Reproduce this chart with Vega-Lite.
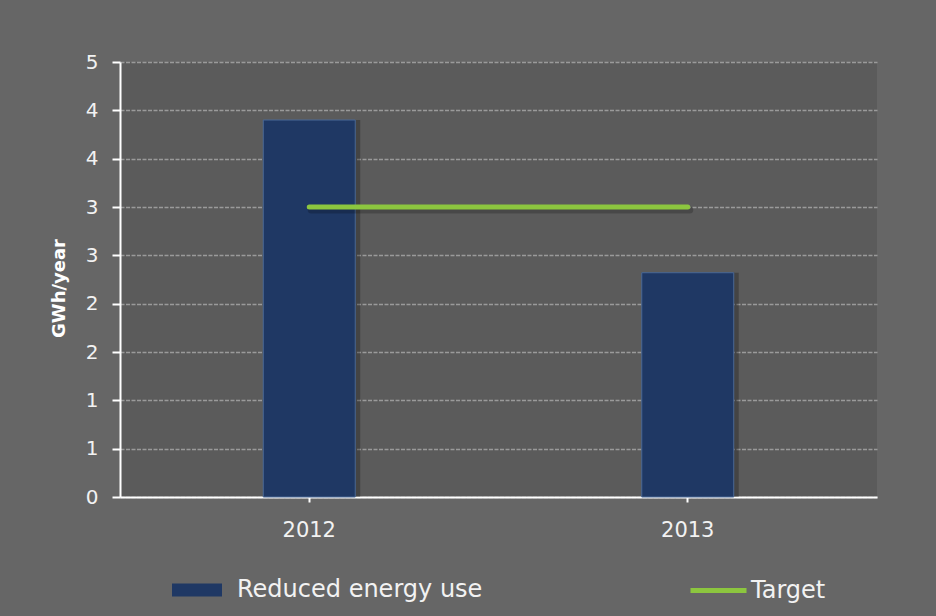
{
  "$schema": "https://vega.github.io/schema/vega-lite/v6.json",
  "autosize": "none",
  "width": 757,
  "height": 435,
  "padding": {"left": 120, "top": 62, "right": 59, "bottom": 119},
  "background": "#666666",
  "config": {
    "view": {"fill": "#5b5b5b", "stroke": null},
    "font": "DejaVu Sans"
  },
  "data": {
    "values": [
      {"year": "2012", "series": "Reduced energy use", "value": 3.9},
      {"year": "2013", "series": "Reduced energy use", "value": 2.32},
      {"year": "2012", "series": "Target", "value": 3.0},
      {"year": "2013", "series": "Target", "value": 3.0}
    ]
  },
  "encoding": {
    "x": {
      "field": "year",
      "type": "nominal",
      "scale": {"paddingInner": 0, "paddingOuter": 0},
      "axis": {
        "title": null,
        "labelAngle": 0,
        "labelColor": "#f2f2f2",
        "labelFontSize": 21,
        "labelPadding": 17,
        "domainColor": "#ffffff",
        "domainWidth": 2,
        "tickColor": "#ffffff",
        "tickWidth": 2,
        "tickSize": 5,
        "grid": false
      }
    },
    "y": {
      "field": "value",
      "type": "quantitative",
      "scale": {"domain": [0, 4.5], "nice": false},
      "axis": {
        "title": "GWh/year",
        "titleColor": "#ffffff",
        "titleFontSize": 18,
        "titleFontWeight": "bold",
        "titlePadding": 17,
        "titleY": 226,
        "values": [0, 0.5, 1, 1.5, 2, 2.5, 3, 3.5, 4, 4.5],
        "labelExpr": "round(datum.value)",
        "labelColor": "#f2f2f2",
        "labelFontSize": 20,
        "labelPadding": 14,
        "domainColor": "#ffffff",
        "domainWidth": 2,
        "tickColor": "#ffffff",
        "tickWidth": 2,
        "tickSize": 8,
        "gridColor": "#9a9a9a",
        "gridWidth": 1.5,
        "gridDash": [4, 1.5]
      }
    }
  },
  "layer": [
    {
      "transform": [{"filter": "datum.series === 'Reduced energy use'"}],
      "mark": {"type": "bar", "width": {"band": 0.243}, "color": "#000000", "opacity": 0.25, "xOffset": 5},
      "encoding": {}
    },
    {
      "transform": [{"filter": "datum.series === 'Reduced energy use'"}],
      "mark": {"type": "bar", "width": {"band": 0.243}, "stroke": "#4a6896", "strokeWidth": 1},
      "encoding": {
        "fill": {
          "field": "series",
          "type": "nominal",
          "scale": {"domain": ["Reduced energy use"], "range": ["#1f3864"]},
          "legend": {
            "title": null,
            "orient": "none",
            "legendX": 52,
            "legendY": 503,
            "labelColor": "#f2f2f2",
            "labelFontSize": 24,
            "labelOffset": 15,
            "labelLimit": 400,
            "symbolType": "M-1,-0.26H1V0.26H-1Z",
            "symbolSize": 2500,
            "symbolStrokeWidth": 0,
            "symbolOpacity": 1
          }
        }
      }
    },
    {
      "transform": [{"filter": "datum.series === 'Target'"}],
      "mark": {"type": "line", "strokeWidth": 7, "strokeCap": "round", "color": "#000000", "opacity": 0.2, "yOffset": 3, "xOffset": 2},
      "encoding": {}
    },
    {
      "transform": [{"filter": "datum.series === 'Target'"}],
      "mark": {"type": "line", "strokeWidth": 5, "strokeCap": "round"},
      "encoding": {
        "stroke": {
          "field": "series",
          "type": "nominal",
          "scale": {"domain": ["Target"], "range": ["#8cc63f"]},
          "legend": {
            "title": null,
            "orient": "none",
            "legendX": 568,
            "legendY": 498,
            "labelColor": "#f2f2f2",
            "labelFontSize": 24,
            "labelOffset": 2,
            "labelLimit": 400,
            "symbolType": "stroke",
            "symbolSize": 3136,
            "symbolStrokeWidth": 5,
            "symbolOpacity": 1
          }
        }
      }
    }
  ]
}
